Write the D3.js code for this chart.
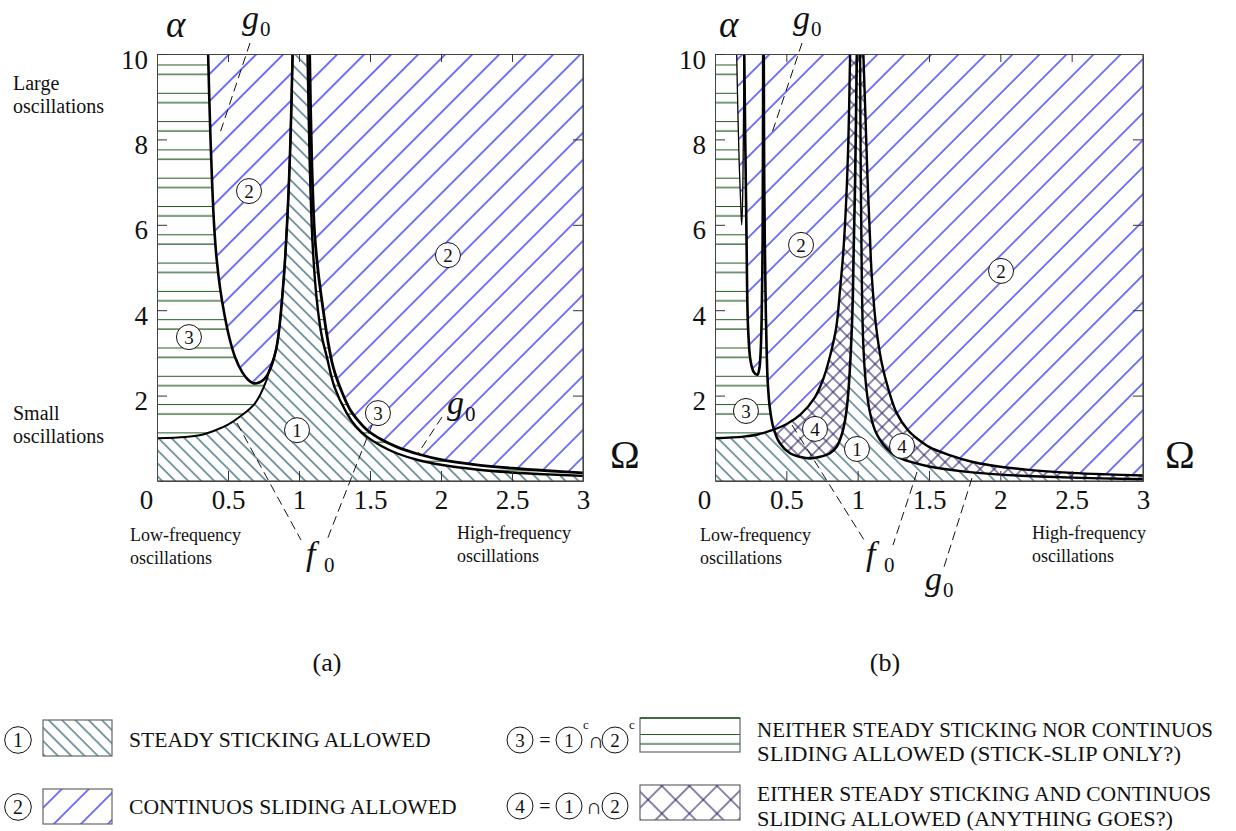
<!DOCTYPE html>
<html><head><meta charset="utf-8">
<script src="https://cdn.jsdelivr.net/npm/d3@7"></script>
<style>
body{margin:0;background:#fff}
svg{display:block}
text{font-family:"Liberation Serif","Times New Roman",serif;fill:#111}
</style>
</head><body>
<svg id="c" width="1236" height="831"></svg>
<script>
// ================= DATA =================
const omegaTicks = [0, 0.5, 1, 1.5, 2, 2.5, 3];
const omegaTickLabels = ["0", "0.5", "1", "1.5", "2", "2.5", "3"];
const alphaTicks = [2, 4, 6, 8, 10];
const alphaTickLabels = ["2", "4", "6", "8", "10"];

// Panel (a): boundary curves [Omega, alpha]
const a_f0Left = [[0,1.0],[0.2,1.03],[0.3,1.07],[0.42,1.2],[0.5,1.32],[0.585,1.51],[0.69,1.82],[0.77,2.35],[0.784,2.52],[0.84,3.1],[0.89,4.64],[0.92,6.3],[0.94,8.0],[0.955,10]];
const a_f0Right = [[1.06,10],[1.075,7.5],[1.095,5.6],[1.125,4.25],[1.16,3.4],[1.195,2.92],[1.25,2.2],[1.336,1.59],[1.4,1.28],[1.477,1.04],[1.58,0.82],[1.688,0.65],[1.85,0.48],[2,0.38],[2.25,0.27],[2.5,0.2],[2.75,0.155],[3,0.12]];
const a_g0Valley = [[0.36,10],[0.368,9],[0.377,8],[0.388,7],[0.402,6],[0.42,5.2],[0.445,4.5],[0.475,3.9],[0.51,3.35],[0.55,2.9],[0.6,2.55],[0.645,2.36],[0.678,2.29],[0.715,2.3],[0.75,2.37],[0.77,2.45]];
const a_g0Right = [[1.075,10],[1.09,7.5],[1.11,5.8],[1.135,4.9],[1.16,4.25],[1.2,3.35],[1.24,2.68],[1.3,2.1],[1.36,1.67],[1.42,1.4],[1.477,1.2],[1.58,0.97],[1.688,0.8],[1.85,0.62],[2,0.5],[2.25,0.38],[2.5,0.3],[2.75,0.24],[3,0.19]];

// Panel (b): boundary curves [Omega, alpha]
const b_f0Left = [[0,1.0],[0.2,1.04],[0.3,1.09],[0.4,1.19],[0.5,1.33],[0.6,1.56],[0.7,1.96],[0.76,2.4],[0.806,2.92],[0.85,3.6],[0.877,4.5],[0.9,5.4],[0.92,6.6],[0.935,8],[0.947,10]];
const b_f0Right = [[1.04,10],[1.055,8.5],[1.07,7],[1.085,5.8],[1.099,4.8],[1.13,3.6],[1.169,2.76],[1.22,2.1],[1.274,1.59],[1.35,1.2],[1.414,1.0],[1.5,0.8],[1.65,0.6],[1.8,0.45],[1.93,0.37],[2.2,0.26],[2.5,0.19],[2.75,0.155],[3,0.13]];
const b_g0U1 = [[0.152,10],[0.16,8.7],[0.17,7.4],[0.18,6.5],[0.187,6.0],[0.193,6.5],[0.198,7.8],[0.203,10]];
const b_g0U2 = [[0.205,10],[0.212,8],[0.218,6.5],[0.222,5.4],[0.226,4.3],[0.233,3.5],[0.248,2.84],[0.27,2.56],[0.297,2.49],[0.31,2.62],[0.318,2.9],[0.325,3.5],[0.33,4.5],[0.334,5.6],[0.336,7.5],[0.338,10]];
const b_g0U3 = [[0.342,10],[0.345,7],[0.35,5.4],[0.356,4],[0.362,3.07],[0.37,2.29],[0.386,1.67],[0.41,1.24],[0.456,0.88],[0.526,0.65],[0.6,0.56],[0.666,0.53],[0.73,0.56],[0.806,0.65],[0.853,0.8],[0.885,1.05],[0.912,1.43],[0.93,1.9],[0.945,2.6],[0.958,3.5],[0.966,4.3],[0.972,5.4],[0.982,7],[0.994,10]];
const b_g0Right = [[1.017,10],[1.022,7],[1.029,4.72],[1.04,3.15],[1.06,2.2],[1.087,1.59],[1.12,1.2],[1.157,0.96],[1.21,0.74],[1.274,0.57],[1.38,0.44],[1.5,0.34],[1.75,0.22],[2,0.15],[2.5,0.08],[3,0.04]];

// Region number markers [panel, label, Omega, alpha]
const regionMarkers = [
  ["a","2",0.648,6.79],["a","2",2.049,5.29],["a","3",0.225,3.37],["a","1",0.986,1.19],["a","3",1.556,1.59],
  ["b","2",0.603,5.53],["b","2",2.005,4.92],["b","3",0.217,1.64],["b","4",0.701,1.22],["b","1",0.995,0.75],["b","4",1.311,0.82]
];

const legendTexts = {
  r1: "STEADY STICKING ALLOWED",
  r2: "CONTINUOS SLIDING ALLOWED",
  r3: ["NEITHER STEADY STICKING NOR CONTINUOS", "SLIDING ALLOWED (STICK-SLIP ONLY?)"],
  r4: ["EITHER STEADY STICKING AND CONTINUOS", "SLIDING ALLOWED (ANYTHING GOES?)"]
};

// ================= SETUP =================
const svg = d3.select("#c");
const defs = svg.append("defs");
const X = { a: d3.scaleLinear([0, 3], [157, 583]), b: d3.scaleLinear([0, 3], [715, 1143]) };
const Y = d3.scaleLinear([0, 10], [481, 54]);
const SERIF = '"Liberation Serif","Times New Roman",serif';

const COL = { teal: "#14505e", blue: "#0000ff", green: "#1d5c1d", cross: "#2a1f66" };

function hatch(id, s, angle, color, cross, w) {
  const p = defs.append("pattern").attr("id", id).attr("patternUnits", "userSpaceOnUse")
    .attr("width", s).attr("height", s).attr("patternTransform", `rotate(${angle})`);
  p.append("line").attr("x1", s / 2).attr("x2", s / 2).attr("y1", -1).attr("y2", s + 1)
    .attr("stroke", color).attr("stroke-width", w);
  if (cross) p.append("line").attr("y1", s / 2).attr("y2", s / 2).attr("x1", -1).attr("x2", s + 1)
    .attr("stroke", color).attr("stroke-width", w);
}
hatch("pTeal", 9.2, -45, COL.teal, false, 1.1);
hatch("pBlue", 19.1, 45, COL.blue, false, 1.1);
hatch("pCross", 9.9, 45, COL.cross, true, 1.1);
hatch("pCrossL", 19.5, 45, COL.cross, true, 1.1);
hatch("pTealL", 9.4, -45, COL.teal, false, 1.1);

function greenPattern(id, y0) {
  const p = defs.append("pattern").attr("id", id).attr("patternUnits", "userSpaceOnUse")
    .attr("x", 0).attr("y", y0).attr("width", 40).attr("height", 28.3);
  p.append("line").attr("x1", 0).attr("x2", 40).attr("y1", 0.5).attr("y2", 0.5).attr("stroke", COL.green).attr("stroke-width", 1.1);
  p.append("line").attr("x1", 0).attr("x2", 40).attr("y1", 9.9).attr("y2", 9.9).attr("stroke", COL.green).attr("stroke-width", 1.1);
}
greenPattern("pGreen", 64.5);
greenPattern("pGreenL", 734);

function lg(x) {
  return d3.line().x(d => x(d[0])).y(d => Y(d[1])).curve(d3.curveCatmullRom.alpha(0.5));
}
function closeTop(x, pts) {
  const l = lg(x)(pts);
  const last = pts[pts.length - 1], first = pts[0];
  return l + `L${x(last[0])},${Y(10.5)}L${x(first[0])},${Y(10.5)}Z`;
}
function region1Path(x, fl, fr) {
  const l1 = lg(x)(fl), l2 = lg(x)(fr).replace(/^M/, "L");
  return l1 + l2 + `L${x(3) + 2},${Y(fr[fr.length - 1][1])}L${x(3) + 2},${Y(0) + 2}L${x(0) - 2},${Y(0) + 2}L${x(0) - 2},${Y(fl[0][1])}Z`;
}
function rightRegion(x, pts) {
  const l = lg(x)(pts);
  return l + `L${x(3) + 2},${Y(pts[pts.length - 1][1])}L${x(3) + 2},${Y(10.5)}L${x(pts[0][0])},${Y(10.5)}Z`;
}

function panel(key, f0L, f0R, g0Polys, g0Right, withCross) {
  const x = X[key];
  const clipId = "clip" + key;
  defs.append("clipPath").attr("id", clipId).append("rect")
    .attr("x", x(0)).attr("y", Y(10)).attr("width", x(3) - x(0)).attr("height", Y(0) - Y(10));
  const g = svg.append("g").attr("clip-path", `url(#${clipId})`);
  g.append("rect").attr("x", x(0)).attr("y", Y(10)).attr("width", x(3) - x(0)).attr("height", Y(0) - Y(10)).attr("fill", "#fff");
  g.append("rect").attr("x", x(0)).attr("y", Y(10)).attr("width", x(3) - x(0)).attr("height", Y(0) - Y(10)).attr("fill", "url(#pGreen)");
  const r2paths = g0Polys.map(p => closeTop(x, p)).concat([rightRegion(x, g0Right)]);
  r2paths.forEach(d => {
    g.append("path").attr("d", d).attr("fill", "#fff");
    g.append("path").attr("d", d).attr("fill", "url(#pBlue)");
  });
  const r1 = region1Path(x, f0L, f0R);
  g.append("path").attr("d", r1).attr("fill", "#fff");
  g.append("path").attr("d", r1).attr("fill", "url(#pTeal)");
  if (withCross) {
    const cid = "r1clip" + key;
    defs.append("clipPath").attr("id", cid).append("path").attr("d", r1);
    const g4 = g.append("g").attr("clip-path", `url(#${cid})`);
    r2paths.forEach(d => {
      g4.append("path").attr("d", d).attr("fill", "#fff");
      g4.append("path").attr("d", d).attr("fill", "url(#pCross)");
    });
  }
  return { g, x };
}

function strokeCurve(g, x, pts, w) {
  g.append("path").attr("d", lg(x)(pts)).attr("fill", "none").attr("stroke", "#000")
    .attr("stroke-width", w).attr("stroke-linejoin", "round");
}

function axes(key) {
  const x = X[key];
  const ax = svg.append("g");
  const style = s => s.attr("font-family", SERIF).attr("font-size", null)
    .call(s => s.selectAll("line").attr("stroke", "#333"))
    .call(s => s.selectAll(".domain").attr("stroke", "#444"));
  ax.append("g").attr("transform", `translate(0,${Y(0)})`)
    .call(d3.axisBottom(x).tickValues(omegaTicks).tickFormat((d, i) => omegaTickLabels[i]).tickSize(-10).tickSizeOuter(0).tickPadding(9))
    .call(style)
    .call(s => s.selectAll("text").attr("font-family", SERIF).attr("font-size", 27).attr("dx", d => d === 0 ? -11 : 0));
  ax.append("g").attr("transform", `translate(0,${Y(10)})`)
    .call(d3.axisTop(x).tickValues(omegaTicks.slice(1, -1)).tickFormat("").tickSize(-8).tickSizeOuter(0))
    .call(style);
  ax.append("g").attr("transform", `translate(${x(0)},0)`)
    .call(d3.axisLeft(Y).tickValues(alphaTicks).tickFormat((d, i) => alphaTickLabels[i]).tickSize(-10).tickSizeOuter(0).tickPadding(9))
    .call(style)
    .call(s => s.selectAll("text").attr("font-family", SERIF).attr("font-size", 27).attr("dy", "0.52em"));
  ax.append("g").attr("transform", `translate(${x(3)},0)`)
    .call(d3.axisRight(Y).tickValues(alphaTicks.slice(0, -1)).tickFormat("").tickSize(-10).tickSizeOuter(0))
    .call(style);
}

function circled(parent, cx, cy, label, r = 12.5, fs = 19) {
  parent.append("circle").attr("cx", cx).attr("cy", cy).attr("r", r).attr("fill", "#fff").attr("stroke", "#111").attr("stroke-width", 1);
  parent.append("text").attr("x", cx).attr("y", cy).attr("dy", "0.35em").attr("text-anchor", "middle").attr("font-size", fs).text(label);
}
function txt(x, y, s, fs, opts = {}) {
  const t = svg.append("text").attr("x", x).attr("y", y).attr("font-size", fs).text(s);
  if (opts.italic) t.attr("font-style", "italic");
  if (opts.anchor) t.attr("text-anchor", opts.anchor);
  if (opts.len) t.attr("textLength", opts.len).attr("lengthAdjust", "spacingAndGlyphs");
  return t;
}
function sym(x, y, main, sub) {
  txt(x, y, main, 34, { italic: true });
  txt(x + 18, y + 7, sub, 21);
}
function leader(x1, y1, x2, y2) {
  svg.append("line").attr("x1", x1).attr("y1", y1).attr("x2", x2).attr("y2", y2)
    .attr("stroke", "#111").attr("stroke-width", 1).attr("stroke-dasharray", "9,5");
}

// ================= PANEL (a) =================
{
  const uA = a_g0Valley.concat(a_f0Left.filter(d => d[0] >= 0.784));
  const { g, x } = panel("a", a_f0Left, a_f0Right, [uA], a_g0Right, false);
  strokeCurve(g, x, a_f0Left, 2);
  strokeCurve(g, x, uA, 2.6);
  strokeCurve(g, x, a_f0Right, 2.4);
  strokeCurve(g, x, a_g0Right, 2.8);
  g.append("rect").attr("x", x(0)).attr("y", Y(10)).attr("width", x(3) - x(0)).attr("height", Y(0) - Y(10))
    .attr("fill", "none").attr("stroke", "#444").attr("stroke-width", 1.2);
  axes("a");
}
// ================= PANEL (b) =================
{
  const { g, x } = panel("b", b_f0Left, b_f0Right, [b_g0U1, b_g0U2, b_g0U3], b_g0Right, true);
  strokeCurve(g, x, b_f0Left, 2.4);
  strokeCurve(g, x, b_f0Right, 2.4);
  strokeCurve(g, x, b_g0U1, 1.3);
  strokeCurve(g, x, b_g0U2, 2.6);
  strokeCurve(g, x, b_g0U3, 2.6);
  strokeCurve(g, x, b_g0Right, 2.4);
  g.append("rect").attr("x", x(0)).attr("y", Y(10)).attr("width", x(3) - x(0)).attr("height", Y(0) - Y(10))
    .attr("fill", "none").attr("stroke", "#444").attr("stroke-width", 1.2);
  axes("b");
}

regionMarkers.forEach(([p, lab, o, a]) => circled(svg, X[p](o), Y(a), lab));

// ================= ANNOTATIONS =================
leader(250, 43, 220, 133);
leader(442, 417, 417, 455);
leader(237, 423, 301, 540);
leader(372, 425, 327, 540);
leader(802, 43, 772, 133);
leader(792, 425, 866, 543);
leader(917, 472, 893, 545);
leader(972, 478, 944, 567);

txt(166, 37, "α", 37, { italic: true });
txt(719, 37, "α", 37, { italic: true });
sym(242, 29, "g", "0");
sym(793, 29, "g", "0");
sym(447, 414, "g", "0");
sym(925, 590, "g", "0");
sym(306, 565, "f", "0");
sym(866, 565, "f", "0");
txt(610, 468, "Ω", 40);
txt(1165, 468, "Ω", 40);

txt(13, 90, "Large", 20); txt(13, 113, "oscillations", 20);
txt(13, 420, "Small", 20); txt(13, 443, "oscillations", 20);
txt(130, 541, "Low-frequency", 18); txt(130, 564, "oscillations", 18);
txt(457, 539, "High-frequency", 18); txt(457, 562, "oscillations", 18);
txt(700, 541, "Low-frequency", 18); txt(700, 564, "oscillations", 18);
txt(1032, 539, "High-frequency", 18); txt(1032, 562, "oscillations", 18);
txt(327, 671, "(a)", 26, { anchor: "middle" });
txt(885, 671, "(b)", 26, { anchor: "middle" });

// ================= LEGEND =================
function legendBox(x, y, w, h, fill, topGreen) {
  svg.append("rect").attr("x", x).attr("y", y).attr("width", w).attr("height", h).attr("fill", "#fff");
  svg.append("rect").attr("x", x).attr("y", y).attr("width", w).attr("height", h).attr("fill", fill)
    .attr("stroke", "#666").attr("stroke-width", 1.2);
  if (topGreen) svg.append("line").attr("x1", x).attr("x2", x + w).attr("y1", y).attr("y2", y).attr("stroke", COL.green).attr("stroke-width", 1.4);
}
circled(svg, 18, 740, "1", 13.3, 20);
legendBox(43, 720, 69, 36, "url(#pTealL)");
txt(129, 747, legendTexts.r1, 21.6);
circled(svg, 18, 807, "2", 13.3, 20);
legendBox(43, 789, 69, 35, "url(#pBlue)");
txt(129, 814, legendTexts.r2, 21.6);

circled(svg, 520, 740, "3", 13, 19);
txt(545, 747, "=", 20, { anchor: "middle" });
circled(svg, 569, 740, "1", 13, 19);
txt(583, 729, "c", 13);
txt(596, 748, "∩", 22, { anchor: "middle" });
circled(svg, 615, 740, "2", 13, 19);
txt(629, 729, "c", 13);
legendBox(640, 718, 100, 34, "url(#pGreenL)", true);
txt(757, 737, legendTexts.r3[0], 21, { len: 456 });
txt(757, 761, legendTexts.r3[1], 21, { len: 424 });

circled(svg, 520, 806, "4", 13, 19);
txt(545, 813, "=", 20, { anchor: "middle" });
circled(svg, 569, 806, "1", 13, 19);
txt(594, 814, "∩", 22, { anchor: "middle" });
circled(svg, 615, 806, "2", 13, 19);
legendBox(640, 785, 100, 35, "url(#pCrossL)");
txt(757, 801, legendTexts.r4[0], 21, { len: 454 });
txt(757, 826, legendTexts.r4[1], 21, { len: 416 });
</script>
</body></html>
